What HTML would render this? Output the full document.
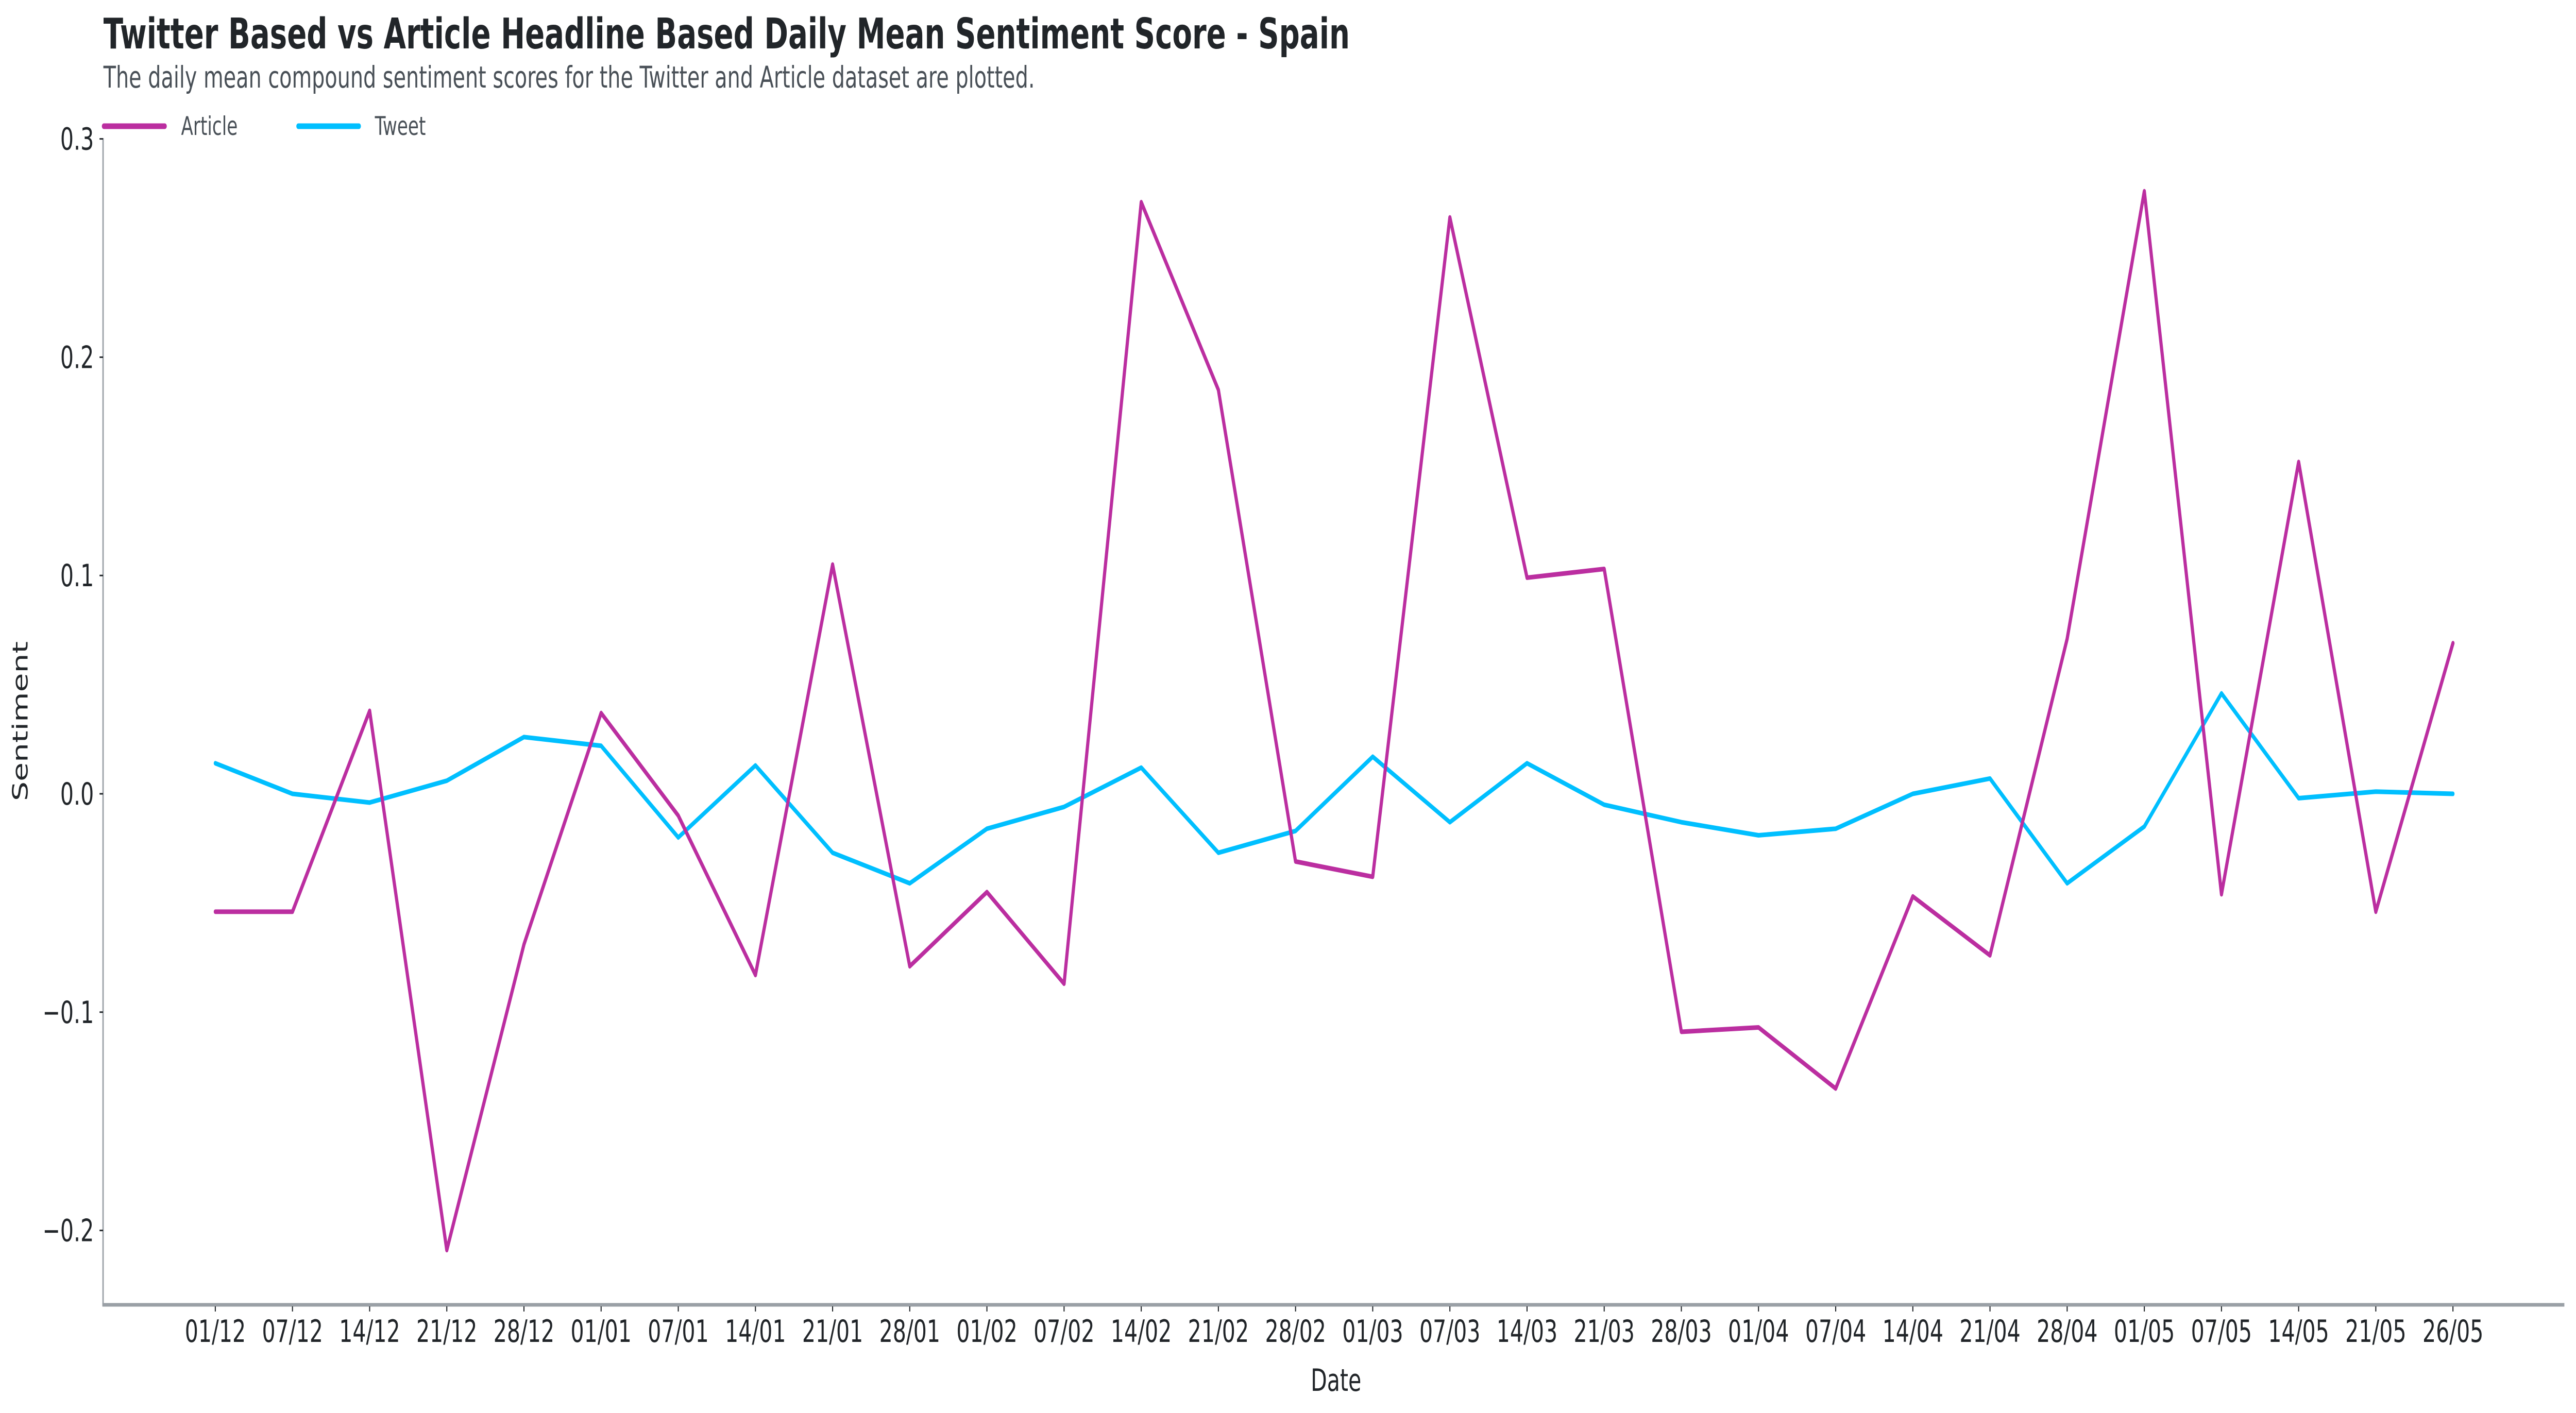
<!DOCTYPE html>
<html><head><meta charset="utf-8"><style>
html,body{margin:0;padding:0;background:#fff;width:100%;height:100%;overflow:hidden;}
svg{display:block;width:100vw;height:100vh;font-family:"DejaVu Sans","Liberation Sans",sans-serif;}
</style></head><body>
<svg id="chart" viewBox="0 0 7298 2743" preserveAspectRatio="none" xmlns="http://www.w3.org/2000/svg">
<rect width="7298" height="2743" fill="#fff"/>
<text x="293" y="94" font-size="82" font-weight="bold" fill="#212529">Twitter Based vs Article Headline Based Daily Mean Sentiment Score - Spain</text>
<text x="293" y="170" font-size="58" fill="#495057">The daily mean compound sentiment scores for the Twitter and Article dataset are plotted.</text>
<g>
<g>
<line x1="294" y1="245" x2="467" y2="245" stroke="#bb2ea0" stroke-width="11" stroke-linecap="round"/>
<text x="513" y="262" font-size="50" fill="#495057">Article</text></g>
<g>
<line x1="845" y1="245" x2="1017" y2="245" stroke="#00bfff" stroke-width="11" stroke-linecap="round"/>
<text x="1062" y="262" font-size="50" fill="#495057">Tweet</text></g>
</g>
<g id="axes"></g>
<g id="series"></g>
<text x="3785" y="2700" font-size="60" fill="#212529" text-anchor="middle">Date</text>
<text x="78" y="1400" font-size="60" fill="#212529" text-anchor="middle" transform="rotate(-90 78 1400)">Sentiment</text>
</svg>
<script>
const categories = ["01/12","07/12","14/12","21/12","28/12","01/01","07/01","14/01","21/01","28/01","01/02","07/02","14/02","21/02","28/02","01/03","07/03","14/03","21/03","28/03","01/04","07/04","14/04","21/04","28/04","01/05","07/05","14/05","21/05","26/05"];
const articleValues = [-0.054,-0.054,0.038,-0.209,-0.069,0.037,-0.010,-0.083,0.105,-0.079,-0.045,-0.087,0.271,0.185,-0.031,-0.038,0.264,0.099,0.103,-0.109,-0.107,-0.135,-0.047,-0.074,0.071,0.276,-0.046,0.152,-0.054,0.069];
const tweetValues = [0.014,0.000,-0.004,0.006,0.026,0.022,-0.020,0.013,-0.027,-0.041,-0.016,-0.006,0.012,-0.027,-0.017,0.017,-0.013,0.014,-0.005,-0.013,-0.019,-0.016,0.000,0.007,-0.041,-0.015,0.046,-0.002,0.001,0.000];
const yTicks = [0.3,0.2,0.1,0.0,-0.1,-0.2];
const yTickLabels = ["0.3","0.2","0.1","0.0","\u22120.1","\u22120.2"];

const NS = "http://www.w3.org/2000/svg";
const x = i => 610 + i * 218.6;
const y = v => 1541 - v * 4238;
function mk(tag, attrs, parent){const e=document.createElementNS(NS,tag);for(const k in attrs)e.setAttribute(k,attrs[k]);parent.appendChild(e);return e;}
const axes = document.getElementById('axes');
const series = document.getElementById('series');

const ls = mk('line',{x1:292,y1:268,x2:292,y2:2535,stroke:'#9aa0a6','stroke-width':4},axes);


const bs = mk('line',{x1:290,y1:2533,x2:7265,y2:2533,stroke:'#9aa0a6','stroke-width':7},axes);



yTicks.forEach((v,i)=>{
  const t = mk('line',{x1:282,y1:y(v),x2:292,y2:y(v),stroke:'#212529','stroke-width':3},axes);
  
  
  const l = mk('text',{x:266,y:y(v)+21,'font-size':60,fill:'#212529','text-anchor':'end'},axes);
  l.textContent = yTickLabels[i];
  
  
});
categories.forEach((c,i)=>{
  const t = mk('line',{x1:x(i),y1:2536,x2:x(i),y2:2546,stroke:'#212529','stroke-width':3},axes);
  
  
  const l = mk('text',{x:x(i),y:2605,'font-size':60,fill:'#212529','text-anchor':'middle'},axes);
  l.textContent = c;
  
  
});
function line(vals,color,name){
  const p = mk('polyline',{points:vals.map((v,i)=>x(i)+','+y(v)).join(' '),fill:'none',stroke:color,'stroke-width':9,'stroke-linejoin':'round','stroke-linecap':'round'},series);
  
  
}
line(tweetValues,'#00bfff','tweet-line');
line(articleValues,'#bb2ea0','article-line');
</script>
</body></html>
